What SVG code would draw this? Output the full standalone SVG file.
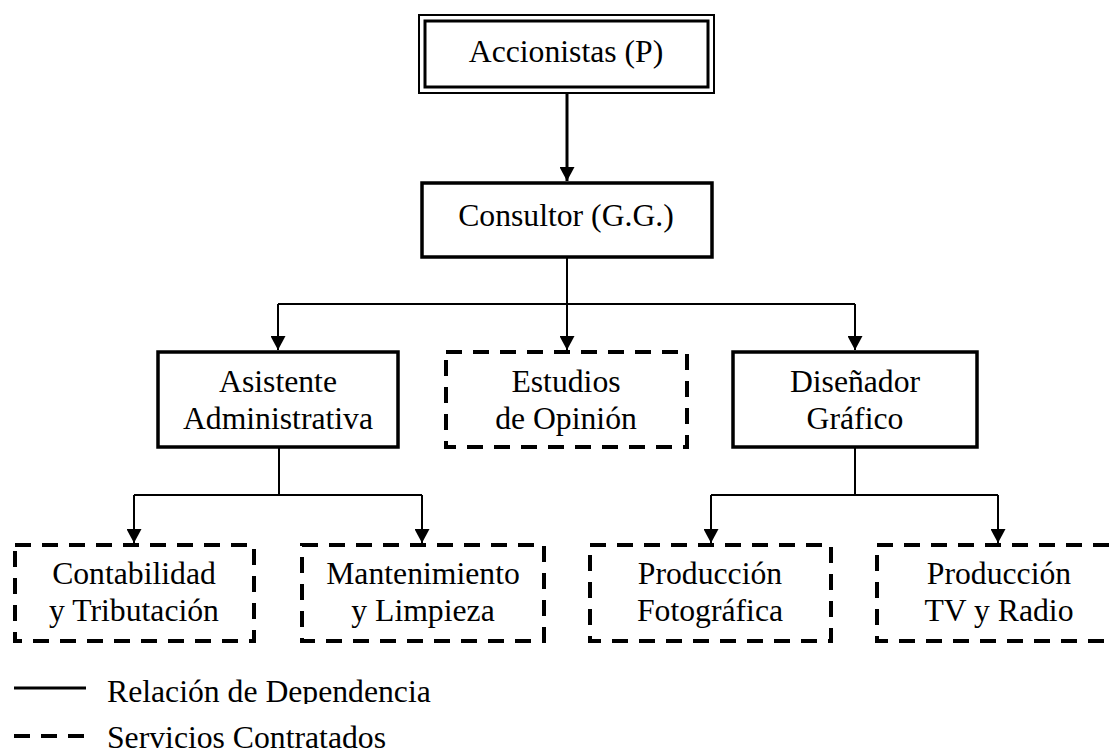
<svg xmlns="http://www.w3.org/2000/svg" width="1111" height="754" viewBox="0 0 1111 754">
<style>
text{font-family:"Liberation Serif","Times New Roman",serif;font-size:31.7px;fill:#000;text-anchor:middle}
.solid{fill:#fff;stroke:#000;stroke-width:3.5}
.dash{fill:#fff;stroke:#000;stroke-width:4;stroke-dasharray:16 11}
.conn{fill:none;stroke:#000;stroke-width:2}
.thick{fill:none;stroke:#000;stroke-width:3}
.legend{text-anchor:start}
</style>
<defs>
<marker id="arr" markerUnits="userSpaceOnUse" markerWidth="16" markerHeight="15" refX="14" refY="7.5" orient="auto">
<path d="M0,0 L14,7.5 L0,15 Z" fill="#000"/>
</marker>
<clipPath id="clipRel"><rect x="0" y="660" width="600" height="44"/></clipPath>
</defs>
<rect width="1111" height="754" fill="#fff"/>
<g id="connectors">
<path class="thick" d="M567,93 V181" marker-end="url(#arr)"/>
<path class="conn" d="M567,257 V304"/>
<path class="conn" d="M278,304 H855"/>
<path class="conn" d="M278,304 V350" marker-end="url(#arr)"/>
<path class="conn" d="M567,304 V350" marker-end="url(#arr)"/>
<path class="conn" d="M855,304 V350" marker-end="url(#arr)"/>
<path class="conn" d="M279,447 V495"/>
<path class="conn" d="M134,495 H422"/>
<path class="conn" d="M134,495 V543" marker-end="url(#arr)"/>
<path class="conn" d="M422,495 V543" marker-end="url(#arr)"/>
<path class="conn" d="M855,447 V495"/>
<path class="conn" d="M711,495 H998"/>
<path class="conn" d="M711,495 V543" marker-end="url(#arr)"/>
<path class="conn" d="M998,495 V543" marker-end="url(#arr)"/>
</g>
<g id="accionistas">
<rect x="419" y="15" width="295" height="78" fill="#fff" stroke="#000" stroke-width="2"/>
<rect x="425" y="21" width="283" height="66" fill="none" stroke="#000" stroke-width="3"/>
<text x="566" y="62">Accionistas (P)</text>
</g>
<g id="consultor">
<rect class="solid" x="422" y="183" width="290" height="74"/>
<text x="566" y="226">Consultor (G.G.)</text>
</g>
<g id="asistente">
<rect class="solid" x="158" y="352" width="240" height="95"/>
<text x="278" y="392">Asistente</text>
<text x="278" y="429">Administrativa</text>
</g>
<g id="estudios">
<rect class="dash" x="446" y="352" width="241" height="95"/>
<text x="566" y="392">Estudios</text>
<text x="566" y="429">de Opinión</text>
</g>
<g id="disenador">
<rect class="solid" x="733" y="352" width="244" height="95"/>
<text x="855" y="392">Diseñador</text>
<text x="855" y="429">Gráfico</text>
</g>
<g id="contabilidad">
<rect class="dash" x="15" y="545" width="239" height="96"/>
<text x="134" y="584">Contabilidad</text>
<text x="134" y="621">y Tributación</text>
</g>
<g id="mantenimiento">
<rect class="dash" x="302" y="545" width="242" height="96"/>
<text x="423" y="584">Mantenimiento</text>
<text x="423" y="621">y Limpieza</text>
</g>
<g id="fotografica">
<rect class="dash" x="590" y="545" width="241" height="96"/>
<text x="710" y="584">Producción</text>
<text x="710" y="621">Fotográfica</text>
</g>
<g id="tvradio">
<rect class="dash" x="877" y="545" width="241" height="96"/>
<text x="999" y="584">Producción</text>
<text x="999" y="621">TV y Radio</text>
</g>
<g id="legend">
<line x1="14" y1="688" x2="86" y2="688" stroke="#000" stroke-width="3"/>
<text class="legend" x="107" y="702" clip-path="url(#clipRel)">Relación de Dependencia</text>
<line x1="14" y1="736" x2="86" y2="736" stroke="#000" stroke-width="4" stroke-dasharray="16 11"/>
<text class="legend" x="107" y="748">Servicios Contratados</text>
</g>
</svg>
